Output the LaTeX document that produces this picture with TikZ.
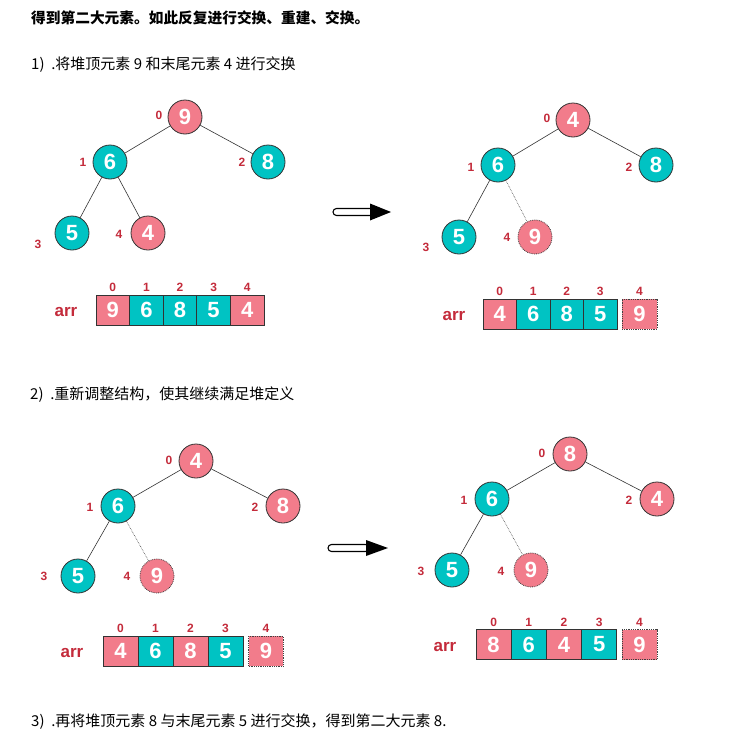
\documentclass[tikz,border=0pt]{standalone}
\usepackage{fontspec}
\setmainfont{Liberation Sans}
\newfontfamily\cjk{Noto Sans CJK SC}
\definecolor{pk}{HTML}{F27C8B}
\definecolor{tl}{HTML}{00C3C3}
\definecolor{idx}{HTML}{C42B3B}
\definecolor{edgec}{HTML}{333333}
\begin{document}
\begin{tikzpicture}[x=1pt,y=-1pt,
 hn/.style={circle, draw=black!80, line width=0.8pt, minimum size=34pt, inner sep=0pt, text=white, font=\fontsize{22}{22}\selectfont\bfseries},
 pkn/.style={hn, fill=pk},
 tln/.style={hn, fill=tl},
 dn/.style={hn, fill=pk, draw=black!75, densely dotted},
 ix/.style={text=idx, font=\fontsize{12}{12}\selectfont\bfseries, inner sep=0pt},
 cellbase/.style={draw=black!80, line width=0.8pt, minimum height=30pt, inner sep=0pt, text=white, font=\fontsize{22}{22}\selectfont\bfseries},
 pkc/.style={cellbase, fill=pk},
 tlc/.style={cellbase, fill=tl},
 dc/.style={cellbase, fill=pk, draw=black!75, densely dotted},
 arrlab/.style={text=idx, font=\fontsize{17}{17}\selectfont\bfseries, inner sep=0pt},
 ed/.style={draw=edgec, line width=0.6pt},
 edd/.style={draw=black!75, line width=0.6pt, densely dotted},
 txt/.style={anchor=west, inner sep=0pt, font=\cjk\fontsize{15}{17}\selectfont},
]
\useasboundingbox (0,0) rectangle (742,739);
\fill[white] (0,0) rectangle (742,739);

% texts
\node[txt, font=\cjk\fontsize{14.7}{17}\selectfont\bfseries] (t0) at (31,18) {得到第二大元素。如此反复进行交换、重建、交换。};
\node[txt] (t1) at (31,65) {1)\ \ .将堆顶元素 9 和末尾元素 4 进行交换};
\node[txt] (t2) at (30,395) {2)\ \ .重新调整结构，使其继续满足堆定义};
\node[txt] (t3) at (31,722) {3)\ \ .再将堆顶元素 8 与末尾元素 5 进行交换，得到第二大元素 8.};

% ---------- panel 1 ----------
\node[pkn] (a0) at (185,117) {9};
\node[tln] (a1) at (110,162) {6};
\node[tln] (a2) at (268,162) {8};
\node[tln] (a3) at (72,233) {5};
\node[pkn] (a4) at (148,233) {4};
\draw[ed] (a0) -- (a1); \draw[ed] (a0) -- (a2);
\draw[ed] (a1) -- (a3); \draw[ed] (a1) -- (a4);
\node[ix] (ai0) at (159,115) {0};
\node[ix] (ai1) at (83,162) {1};
\node[ix] (ai2) at (242,162) {2};
\node[ix] (ai3) at (38,244) {3};
\node[ix] (ai4) at (119,234) {4};
\node[arrlab] (aarr) at (66,312) {arr};
\foreach \v/\s [count=\i from 0] in {9/pkc,6/tlc,8/tlc,5/tlc,4/pkc}{
  \node[\s, minimum width=33.6pt] (ac\i) at (96+16.8+33.6*\i,310) {\v};
  \node[ix] (acx\i) at (96+16.8+33.6*\i,287) {\i};
}

% ---------- arrow 1 ----------
\draw[black, line width=1.1pt, fill=white, rounded corners=3.5pt] (333,208.5) rectangle (374,215.5);
\fill[black] (370,203.5) -- (391,212) -- (370,220.5) -- cycle;

% ---------- panel 2 ----------
\node[pkn] (b0) at (573,120) {4};
\node[tln] (b1) at (498,165) {6};
\node[tln] (b2) at (656,165) {8};
\node[tln] (b3) at (459,237) {5};
\node[dn] (b4) at (535,237) {9};
\draw[ed] (b0) -- (b1); \draw[ed] (b0) -- (b2);
\draw[ed] (b1) -- (b3); \draw[edd] (b1) -- (b4);
\node[ix] (bi0) at (547,118) {0};
\node[ix] (bi1) at (471,167) {1};
\node[ix] (bi2) at (629,167) {2};
\node[ix] (bi3) at (426,247) {3};
\node[ix] (bi4) at (507,237) {4};
\node[arrlab] (barr) at (454,316) {arr};
\foreach \v/\s [count=\i from 0] in {4/pkc,6/tlc,8/tlc,5/tlc}{
  \node[\s, minimum width=33.5pt] (bc\i) at (483+16.75+33.5*\i,314) {\v};
  \node[ix] (bcx\i) at (483+16.75+33.5*\i,291) {\i};
}
\node[dc, minimum width=35pt] (bc4) at (639.5,314) {9};
\node[ix] (bcx4) at (639.5,291) {4};

% ---------- panel 3 ----------
\node[pkn] (c0) at (196,461) {4};
\node[tln] (c1) at (118,506) {6};
\node[pkn] (c2) at (283,506) {8};
\node[tln] (c3) at (78,576) {5};
\node[dn] (c4) at (157,576) {9};
\draw[ed] (c0) -- (c1); \draw[ed] (c0) -- (c2);
\draw[ed] (c1) -- (c3); \draw[edd] (c1) -- (c4);
\node[ix] (ci0) at (169,460) {0};
\node[ix] (ci1) at (90,507) {1};
\node[ix] (ci2) at (255,507) {2};
\node[ix] (ci3) at (44,576) {3};
\node[ix] (ci4) at (127,576) {4};
\node[arrlab] (carr) at (72,653) {arr};
\foreach \v/\s [count=\i from 0] in {4/pkc,6/tlc,8/pkc,5/tlc}{
  \node[\s, minimum width=35pt] (cc\i) at (103+17.5+35*\i,651) {\v};
  \node[ix] (ccx\i) at (103+17.5+35*\i,628) {\i};
}
\node[dc, minimum width=34.5pt] (cc4) at (266,651) {9};
\node[ix] (ccx4) at (266,628) {4};

% ---------- arrow 2 ----------
\draw[black, line width=1.1pt, fill=white, rounded corners=3.5pt] (328,544.5) rectangle (369,551.5);
\fill[black] (366,540) -- (388,548) -- (366,556) -- cycle;

% ---------- panel 4 ----------
\node[pkn] (d0) at (570,454) {8};
\node[tln] (d1) at (492,499) {6};
\node[pkn] (d2) at (657,499) {4};
\node[tln] (d3) at (452,570) {5};
\node[dn] (d4) at (531,570) {9};
\draw[ed] (d0) -- (d1); \draw[ed] (d0) -- (d2);
\draw[ed] (d1) -- (d3); \draw[edd] (d1) -- (d4);
\node[ix] (di0) at (542,453) {0};
\node[ix] (di1) at (464,500) {1};
\node[ix] (di2) at (629,500) {2};
\node[ix] (di3) at (421,571) {3};
\node[ix] (di4) at (501,571) {4};
\node[arrlab] (darr) at (445,647) {arr};
\foreach \v/\s [count=\i from 0] in {8/pkc,6/tlc,4/pkc,5/tlc}{
  \node[\s, minimum width=35.2pt] (dc\i) at (476+17.6+35.2*\i,644.5) {\v};
  \node[ix] (dcx\i) at (476+17.6+35.2*\i,622) {\i};
}
\node[dc, minimum width=35pt] (dc4) at (639.5,644.5) {9};
\node[ix] (dcx4) at (639.5,622) {4};
\end{tikzpicture}
\end{document}
